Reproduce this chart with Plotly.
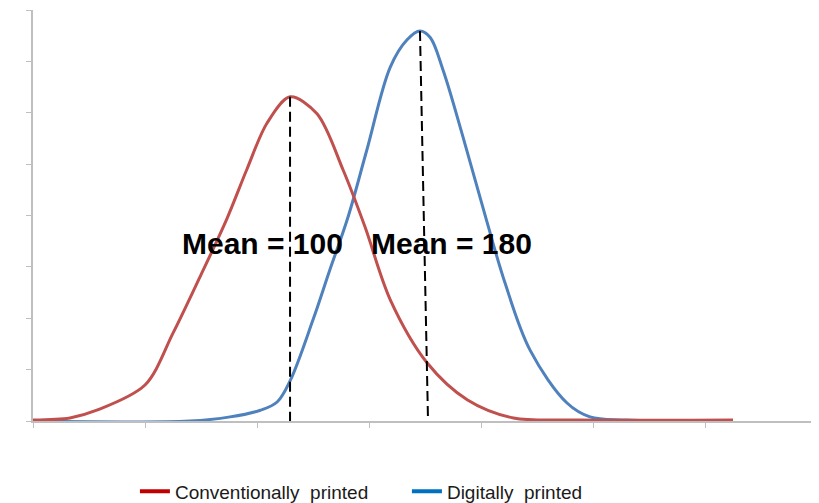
import plotly.graph_objects as go

# x in axis-tick units (0..7), y in tick units (0..8)
conv_x = [0, 0.33, 0.57, 1.0, 1.25, 1.49, 1.73, 1.91, 2.09, 2.295, 2.536, 2.768,
          2.964, 3.19, 3.52, 3.88, 4.29, 4.88, 6.25]
conv_y = [0.02, 0.06, 0.21, 0.70, 1.71, 2.80, 3.93, 4.90, 5.80, 6.31, 5.98, 4.89,
          3.78, 2.36, 1.13, 0.41, 0.06, 0.02, 0.02]

dig_x = [0, 1.40, 1.76, 2.03, 2.18, 2.295, 2.50, 2.65, 2.81, 2.98, 3.19, 3.34, 3.455, 3.545,
         3.661, 3.839, 4.054, 4.214, 4.438, 4.768, 4.973, 5.30, 6.25]
dig_y = [0, 0, 0.08, 0.21, 0.37, 0.78, 1.97, 2.94, 3.95, 5.27, 6.89, 7.42, 7.59, 7.47,
         6.83, 5.53, 3.87, 2.69, 1.38, 0.35, 0.08, 0.02, 0]

# mean markers (top follows the peak, bottom on the axis)
mean_conv_x = [2.295, 2.295]
mean_conv_y = [6.31, 0]
mean_dig_x = [3.455, 3.527]
mean_dig_y = [7.59, 0]

labels = ["Mean = 100", "Mean = 180"]
label_x = [2.045, 3.74]
label_y = [3.46, 3.46]

fig = go.Figure()

fig.add_trace(go.Scatter(x=dig_x, y=dig_y, mode="lines", showlegend=False,
                         line=dict(color="#4F81BD", width=3, shape="spline", smoothing=1.0)))
fig.add_trace(go.Scatter(x=conv_x, y=conv_y, mode="lines", showlegend=False,
                         line=dict(color="#C0504D", width=3, shape="spline", smoothing=0.9)))

for mx, my in [(mean_conv_x, mean_conv_y), (mean_dig_x, mean_dig_y)]:
    fig.add_trace(go.Scatter(x=mx, y=my, mode="lines", showlegend=False,
                             line=dict(color="black", width=2, dash="10px,5px")))

# legend entries (Excel legend colours differ slightly from the curves)
fig.add_trace(go.Scatter(x=[None], y=[None], mode="lines", name="Conventionally  printed",
                         line=dict(color="#C00000", width=4)))
fig.add_trace(go.Scatter(x=[None], y=[None], mode="lines", name="Digitally  printed",
                         line=dict(color="#0070C0", width=4)))

for t, lx, ly in zip(labels, label_x, label_y):
    fig.add_annotation(x=lx, y=ly, text="<b>" + t + "</b>", showarrow=False,
                       font=dict(family="Liberation Sans, Arial", size=30, color="black"))

axis_style = dict(showgrid=False, zeroline=False, showticklabels=False, showline=True,
                  linecolor="#BFBFBF", linewidth=1.5, ticks="outside", ticklen=5,
                  tickcolor="#BFBFBF", tickwidth=1, dtick=1, tick0=0, fixedrange=True,
                  automargin=False)

fig.update_xaxes(range=[0, 7], **axis_style)
fig.update_yaxes(range=[0, 8], **axis_style)

# page body adds an 8px offset, so the figure is sized to fit inside the window
fig.update_layout(
    width=811, height=495,
    margin=dict(l=25, r=2, t=2, b=82, autoexpand=False),
    plot_bgcolor="white", paper_bgcolor="white",
    font=dict(family="Liberation Sans, Arial", size=19, color="#1a1a1a"),
    legend=dict(orientation="h", x=0.13, xanchor="left", y=-0.125, yanchor="top",
                entrywidth=227, entrywidthmode="pixels", font=dict(size=19)),
)

fig.write_html("out.html")
